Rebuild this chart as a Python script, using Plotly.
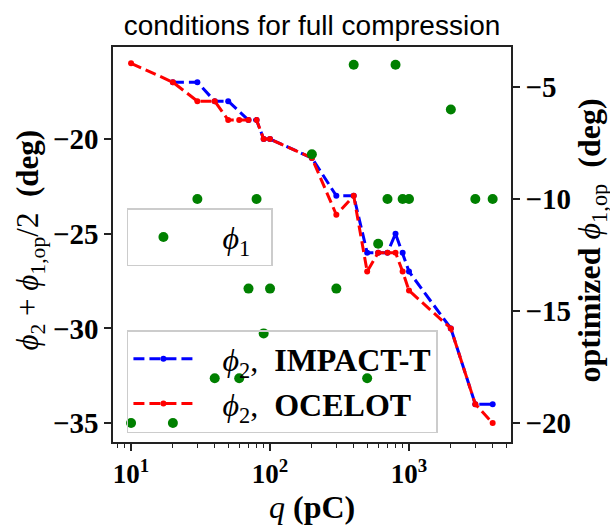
import plotly.graph_objects as go

# Bunch charge (pC) and phases (deg)
q_impact = [20, 30, 40, 50, 70, 80, 90, 100, 200, 300, 400, 500, 600, 700, 800, 900, 1000, 2000, 3000, 4000]
phase_impact = [-17, -17, -18, -18, -19, -19, -20, -20, -21, -23, -23, -26, -26, -26, -25, -26, -27, -30, -34, -34]

q_ocelot = [10, 20, 30, 40, 50, 60, 70, 80, 90, 100, 200, 300, 400, 500, 600, 700, 800, 900, 1000, 2000, 3000, 4000]
phase_ocelot = [-16, -17, -18, -18, -19, -19, -19, -19, -20, -20, -21, -24, -23, -27, -26, -26, -26, -27, -28, -30, -34, -35]

q_phi1 = [10, 20, 30, 40, 60, 70, 80, 90, 100, 200, 300, 400, 500, 600, 700, 800, 900, 1000, 2000, 3000, 4000]
phi1_opt = [-20, -20, -10, -18, -18, -14, -10, -16, -14, -8, -14, -4, -18, -12, -10, -4, -10, -10, -6, -10, -10]

x_tickvals = [10, 100, 1000]
x_ticktext = ["10<sup>1</sup>", "10<sup>2</sup>", "10<sup>3</sup>"]
y_left_ticks = [-20, -25, -30, -35]
y_right_ticks = [-5, -10, -15, -20]

SERIF = "Liberation Serif"
PHI = "\u03d5"
NB = "\u00a0"
PAD = NB * 3

fig = go.Figure()

fig.add_trace(go.Scatter(
    x=q_impact, y=phase_impact, mode="lines+markers",
    name=f"{PAD}<i>{PHI}</i><sub>2</sub>,{NB}{NB}<b>IMPACT-T</b>",
    line=dict(color="#0000ff", width=3, dash="11px,5px"),
    marker=dict(color="#0000ff", size=6),
    legend="legend2", showlegend=True,
))
fig.add_trace(go.Scatter(
    x=q_ocelot, y=phase_ocelot, mode="lines+markers",
    name=f"{PAD}<i>{PHI}</i><sub>2</sub>,{NB}{NB}<b>OCELOT</b>",
    line=dict(color="#ff0000", width=3, dash="11px,5px"),
    marker=dict(color="#ff0000", size=6),
    legend="legend2", showlegend=True,
))
fig.add_trace(go.Scatter(
    x=q_phi1, y=phi1_opt, mode="markers", yaxis="y2",
    name=f"{PAD}<i>{PHI}</i><sub>1</sub>{NB}{NB}",
    marker=dict(color="#008000", size=10),
    legend="legend", showlegend=True,
))

axis_line = dict(showline=True, linecolor="#222222", linewidth=1.5)
tick_font = dict(family=SERIF, size=29, color="black", weight="bold")
legend_font = dict(family=SERIF, size=32, color="black")

fig.update_layout(
    width=610, height=525,
    showlegend=True,
    margin=dict(l=113, r=99, t=47, b=83),
    plot_bgcolor="white", paper_bgcolor="white",
    title=dict(text="conditions for full compression", x=0.5, xref="paper",
               xanchor="center", y=0.952, yanchor="middle",
               font=dict(family="Liberation Sans", size=28, color="black")),
    xaxis=dict(type="log", range=[0.870, 3.734], tickvals=x_tickvals, ticktext=x_ticktext,
               ticks="outside", ticklen=7, tickwidth=1.5, tickcolor="#222222",
               tickfont=dict(family=SERIF, size=27, color="black", weight="bold"),
               minor=dict(tickvals=[8, 9, 20, 30, 40, 50, 60, 70, 80, 90,
                                    200, 300, 400, 500, 600, 700, 800, 900,
                                    2000, 3000, 4000, 5000],
                          ticks="outside", ticklen=4, tickwidth=1, tickcolor="#222222"),
               showgrid=False, zeroline=False, mirror=True, **axis_line),
    yaxis=dict(range=[-36.0, -15.14], tickvals=y_left_ticks, ticks="outside",
               ticklen=7, tickwidth=1.5, tickcolor="#222222", tickfont=tick_font,
               showgrid=False, zeroline=False, **axis_line),
    yaxis2=dict(range=[-20.85, -3.21], tickvals=y_right_ticks, overlaying="y", side="right",
                ticks="outside", ticklen=7, tickwidth=1.5, tickcolor="#222222",
                tickfont=tick_font, showgrid=False, zeroline=False, **axis_line),
    legend=dict(x=0.035, y=0.592, xanchor="left", yanchor="top",
                bgcolor="rgba(255,255,255,0.8)", bordercolor="#cccccc", borderwidth=1.5,
                font=legend_font, itemwidth=60, visible=True),
    legend2=dict(x=0.035, y=0.2835, xanchor="left", yanchor="top",
                 bgcolor="rgba(255,255,255,0)", bordercolor="#cccccc", borderwidth=1.5,
                 font=legend_font, itemwidth=60, visible=True),
    annotations=[
        dict(text=f"<i>{PHI}</i><sub>2</sub> + <i>{PHI}</i><sub>1,op</sub>/2{NB}{NB}<b>(deg)</b>",
             xref="paper", yref="paper", x=-0.2085, y=0.51, textangle=-90,
             xanchor="center", yanchor="middle",
             showarrow=False, font=dict(family=SERIF, size=31, color="black")),
        dict(text=f"<b>optimized</b> <i>{PHI}</i><sub>1,op</sub>{NB}{NB}<b>(deg)</b>",
             xref="paper", yref="paper", x=1.2035, y=0.51, textangle=-90,
             xanchor="center", yanchor="middle",
             showarrow=False, font=dict(family=SERIF, size=32, color="black")),
        dict(text="<i>q</i> <b>(pC)</b>", xref="paper", yref="paper", x=0.5, y=-0.1646,
             xanchor="center", yanchor="middle",
             showarrow=False, font=dict(family=SERIF, size=32, color="black")),
    ],
)

fig.write_html("out.html")
